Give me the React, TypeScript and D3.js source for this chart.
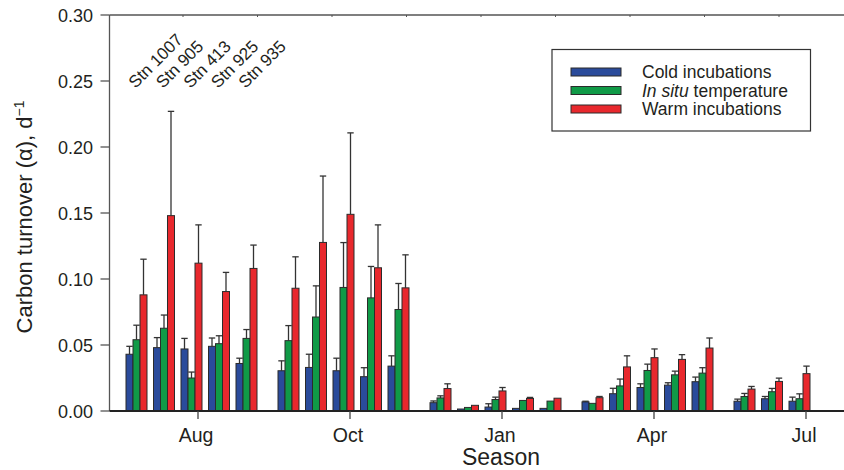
import React from "react";
import * as d3 from "d3";

const seasons = ["Aug", "Oct", "Jan", "Apr", "Jul"];
const stations = ["Stn 1007", "Stn 905", "Stn 413", "Stn 925", "Stn 935"];
const seriesNames = ["Cold incubations", "In situ temperature", "Warm incubations"];
const seriesColors = ["#2a4b9b", "#109a47", "#e8282d"];
const yTicks = [0, 0.05, 0.1, 0.15, 0.2, 0.25, 0.3];

// values [season][station]
const coldValues = [
  [0.043, 0.048, 0.047, 0.049, 0.036],
  [0.0305, 0.033, 0.0305, 0.026, 0.034],
  [0.0063, 0.0015, 0.003, 0.002, 0.002],
  [0.0069, 0.0131, 0.0178, 0.0196, 0.0222],
  [0.0074, 0.0093, 0.0074, null, null],
];
const coldErr = [
  [0.006, 0.0076, 0.008, 0.0063, 0.004],
  [0.0075, 0.01, 0.0095, 0.0068, 0.0078],
  [0.0013, 0, 0.0025, 0, 0],
  [0.0005, 0.0041, 0.0028, 0.0018, 0.0035],
  [0.0016, 0.0017, 0.0031, null, null],
];
const insituValues = [
  [0.054, 0.0627, 0.025, 0.051, 0.055],
  [0.0533, 0.0712, 0.0936, 0.0857, 0.0769],
  [0.0099, 0.0027, 0.0087, 0.008, 0.0075],
  [0.0058, 0.019, 0.0307, 0.0274, 0.0287],
  [0.011, 0.0146, 0.0093, null, null],
];
const insituErr = [
  [0.011, 0.01, 0.0045, 0.006, 0.0067],
  [0.0114, 0.0236, 0.034, 0.0238, 0.0197],
  [0.0016, 0, 0.0018, 0, 0],
  [0, 0.0052, 0.0048, 0.0028, 0.0041],
  [0.0023, 0.0025, 0.0037, null, null],
];
const warmValues = [
  [0.088, 0.148, 0.112, 0.0905, 0.108],
  [0.093, 0.1277, 0.149, 0.1085, 0.0933],
  [0.017, 0.0043, 0.0152, 0.0095, 0.0097],
  [0.0101, 0.0334, 0.0404, 0.0391, 0.0477],
  [0.0166, 0.0224, 0.0283, null, null],
];
const warmErr = [
  [0.027, 0.079, 0.029, 0.0145, 0.0177],
  [0.0238, 0.0503, 0.0617, 0.0325, 0.025],
  [0.0036, 0, 0.0026, 0.0008, 0],
  [0.0009, 0.0084, 0.0066, 0.0036, 0.0076],
  [0.002, 0.0025, 0.0057, null, null],
];

const allValues = [coldValues, insituValues, warmValues];
const allErr = [coldErr, insituErr, warmErr];

const W = 844;
const H = 470;
const FONT = "'Liberation Sans', Arial, Helvetica, sans-serif";
const TXT = "#231f20";

export default function App() {
  const left = 109.5;
  const baseY = 411;
  const topY = 15;

  const y = d3.scaleLinear().domain([0, 0.3]).range([baseY, topY]);
  const xSeason = d3.scaleBand<string>().domain(seasons).range([122, 882]).padding(0);
  const xStation = d3
    .scaleBand<string>()
    .domain(stations)
    .range([4, 135])
    .paddingInner(0.2364)
    .paddingOuter(0);
  const xSeries = d3.scaleBand<string>().domain(seriesNames).range([0, xStation.bandwidth()]).padding(0);
  const bw = xSeries.bandwidth();

  const bars: any[] = [];
  seasons.forEach((s, si) => {
    stations.forEach((st, ti) => {
      seriesNames.forEach((sn, ki) => {
        const v = allValues[ki][si][ti];
        if (v == null) return;
        const e = allErr[ki][si][ti] || 0;
        const x0 = (xSeason(s) as number) + (xStation(st) as number) + (xSeries(sn) as number);
        bars.push({ key: `${si}-${ti}-${ki}`, x: x0, v, e, color: seriesColors[ki] });
      });
    });
  });

  const topTicks = d3.range(9).map((k) => 183 + k * 74.5);

  return (
    <svg
      width={W}
      height={H}
      style={{ position: "absolute", left: 0, top: 0, background: "#fff" }}
      fontFamily={FONT}
    >
      <rect x={0} y={0} width={W} height={H} fill="#fff" />
      {/* top frame */}
      <line x1={left} x2={W} y1={topY} y2={topY} stroke="#555" strokeWidth={1.5} />
      {topTicks.map((t, i) => (
        <line key={i} x1={t} x2={t} y1={topY} y2={topY + 2} stroke="#555" strokeWidth={1} />
      ))}
      {/* y axis */}
      <line x1={left} x2={left} y1={topY} y2={baseY} stroke="#555" strokeWidth={1.3} />
      {yTicks.map((t) => (
        <g key={t}>
          <line x1={left - 9} x2={left} y1={y(t)} y2={y(t)} stroke="#555" strokeWidth={1.3} />
          <text x={93} y={y(t) + 6.5} textAnchor="end" fontSize={18} fill={TXT}>
            {d3.format(".2f")(t)}
          </text>
        </g>
      ))}
      <text
        transform={`translate(32,${(topY + baseY) / 2 + 4}) rotate(-90)`}
        textAnchor="middle"
        fontSize={22}
        fill={TXT}
      >
        Carbon turnover (α), d
        <tspan fontSize={14} dy={-8}>
          −1
        </tspan>
      </text>

      {/* bars */}
      {bars.map((b) => (
        <g key={b.key}>
          {b.e > 0 && (
            <g stroke="#333" strokeWidth={1.3}>
              <line x1={b.x + bw / 2} x2={b.x + bw / 2} y1={y(b.v)} y2={y(b.v + b.e)} />
              <line x1={b.x + bw / 2 - 3.2} x2={b.x + bw / 2 + 3.2} y1={y(b.v + b.e)} y2={y(b.v + b.e)} />
            </g>
          )}
          <rect
            x={b.x}
            y={y(b.v)}
            width={bw}
            height={baseY - y(b.v)}
            fill={b.color}
            stroke="#2b2b2b"
            strokeWidth={1}
          />
        </g>
      ))}

      {/* x axis */}
      <line x1={left} x2={W} y1={baseY} y2={baseY} stroke="#222" strokeWidth={2} />
      {seasons.map((s) => {
        const cx = (xSeason(s) as number) + xSeason.bandwidth() / 2;
        return (
          <g key={s}>
            <line x1={cx} x2={cx} y1={baseY} y2={baseY + 8} stroke="#444" strokeWidth={1.3} />
            <text x={cx - 2} y={442} textAnchor="middle" fontSize={19.5} fill={TXT}>
              {s}
            </text>
          </g>
        );
      })}
      <text x={501} y={465} textAnchor="middle" fontSize={23} fill={TXT}>
        Season
      </text>

      {/* station labels */}
      {stations.map((st) => {
        const cx = (xSeason(seasons[0]) as number) + (xStation(st) as number) + xStation.bandwidth() / 2;
        return (
          <text
            key={st}
            transform={`translate(${cx - 1},89) rotate(-45)`}
            fontSize={17}
            fill={TXT}
          >
            {st}
          </text>
        );
      })}

      {/* legend */}
      <rect x={552} y={49.5} width={258.5} height={81.5} fill="#fff" stroke="#333" strokeWidth={1.2} />
      {seriesNames.map((sn, i) => {
        const cy = 72 + i * 18.5;
        return (
          <g key={sn}>
            <rect x={571} y={cy - 4} width={50} height={8} fill={seriesColors[i]} stroke="#2b2b2b" strokeWidth={1} />
            <text x={642} y={cy + 6} fontSize={17.5} fill={TXT}>
              {i === 1 ? (
                <>
                  <tspan fontStyle="italic">In situ</tspan> temperature
                </>
              ) : (
                sn
              )}
            </text>
          </g>
        );
      })}
    </svg>
  );
}
